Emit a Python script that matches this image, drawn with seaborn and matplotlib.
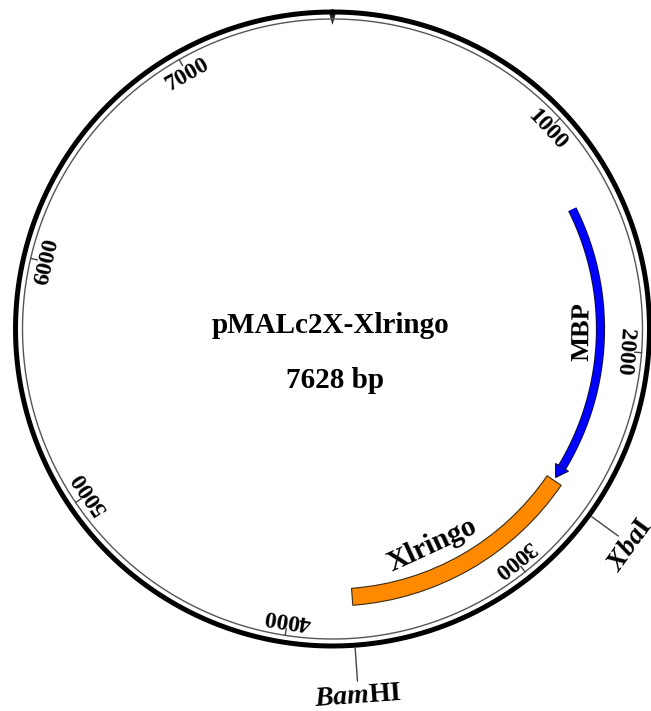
import numpy as np
import matplotlib
matplotlib.use("Agg")
import matplotlib.pyplot as plt
import seaborn as sns
import pandas as pd

# ---------------- data ----------------
plasmid_name = "pMALc2X-Xlringo"
plasmid_length = 7628
tick_positions = [1000, 2000, 3000, 4000, 5000, 6000, 7000]
feature_names = ["MBP", "Xlringo"]
feature_starts = [1345, 2635]
feature_ends = [2620, 3725]
feature_colors = ["#0000FF", "#FF8A00"]
site_names = ["XbaI", "BamHI"]
site_labels = [r"$\mathit{Xba}$I", r"$\mathit{Bam}$HI"]
site_positions = [2668, 3728]

# ---------------- style ----------------
sns.set_theme(style="white")
plt.rcParams['font.family'] = ['Liberation Serif', 'DejaVu Serif']
plt.rcParams['text.color'] = 'black'
plt.rcParams['mathtext.fontset'] = 'custom'
plt.rcParams['mathtext.it'] = 'Liberation Serif:italic:bold'
plt.rcParams['mathtext.rm'] = 'Liberation Serif:bold'

W, H = 651, 711
cx, cy = 332.5, 329.0   # circle centre in pixels (from top-left)
RA = 380.0              # axes radius in pixels -> r units are pixels

fig = plt.figure(figsize=(W / 100, H / 100), dpi=100)
fig.patch.set_facecolor("white")
ax = fig.add_axes([(cx - RA) / W, (H - cy - RA) / H, 2 * RA / W, 2 * RA / H],
                  projection='polar')
ax.set_theta_zero_location('N')
ax.set_theta_direction(-1)
ax.set_ylim(0, RA)
ax.axis('off')


def ang(bp):
    return 2 * np.pi * np.asarray(bp, dtype=float) / plasmid_length


# backbone rings
full = pd.DataFrame({"theta": np.linspace(0, 2 * np.pi, 1441)})
full["outer"] = 317.0
full["inner"] = 310.0
sns.lineplot(data=full, x="theta", y="outer", ax=ax, sort=False, estimator=None,
             color="black", lw=3.6)
sns.lineplot(data=full, x="theta", y="inner", ax=ax, sort=False, estimator=None,
             color="#555555", lw=1.0)

# origin marker (position 0)
d = 4.0 / 317
ax.fill([-d, d, 0.0], [318, 318, 304], color="#222222", lw=0)

# scale ticks and labels
for p in tick_positions:
    t = float(ang(p))
    ax.plot([t, t], [303, 310], color="#444444", lw=1.0)
    ax.text(t, 293, f"{p}", rotation=-np.degrees(t), rotation_mode='anchor',
            ha='center', va='center', fontsize=17, fontweight='bold', color='black')

# MBP (arrow)
r_mbp = 268.0
t0, t1 = float(ang(feature_starts[0])), float(ang(feature_ends[0]))
head = 12.0 / r_mbp
body = np.linspace(t0, t1 - head, 200)
ax.plot(body, np.full_like(body, r_mbp), color="#101030", lw=6.6, solid_capstyle='butt')
ax.plot(body, np.full_like(body, r_mbp), color=feature_colors[0], lw=5.3,
        solid_capstyle='butt')
ax.fill([t1 - head, t1 - head, t1], [r_mbp - 7.5, r_mbp + 7.5, r_mbp],
        facecolor=feature_colors[0], edgecolor="#101030", lw=0.8)

# Xlringo (box)
s0, s1 = float(ang(feature_starts[1])), float(ang(feature_ends[1]))
ax.bar([(s0 + s1) / 2], [17.0], width=[s1 - s0], bottom=260.0, align='center',
       color=feature_colors[1], edgecolor="#3a2a10", linewidth=0.8)

# feature labels (layout angles in bp units)
label_layout = {"MBP": (1918, 250), "Xlringo": (3291, 238)}
label_sizes = {"MBP": 19, "Xlringo": 21}
for name in feature_names:
    bp, rr = label_layout[name]
    t = float(ang(bp))
    ax.text(t, rr, name, rotation=180 - np.degrees(t), rotation_mode='anchor',
            ha='center', va='center', fontsize=label_sizes[name], fontweight='bold',
            color='black')

# restriction sites
for lab, p in zip(site_labels, site_positions):
    t = float(ang(p))
    ax.plot([t, t], [320, 353], color="#444444", lw=1.0)
    ax.text(t, 368, lab, rotation=180 - np.degrees(t), rotation_mode='anchor',
            ha='center', va='center', fontsize=20, fontweight='bold', color='black')

# centre title
fig.text(330 / W, 1 - 333 / H, plasmid_name, ha='center', va='baseline',
         fontsize=21, fontweight='bold', color='black')
fig.text(335 / W, 1 - 388 / H, f"{plasmid_length} bp", ha='center', va='baseline',
         fontsize=21, fontweight='bold', color='black')

fig.savefig("out.png", dpi=100, facecolor="white")
